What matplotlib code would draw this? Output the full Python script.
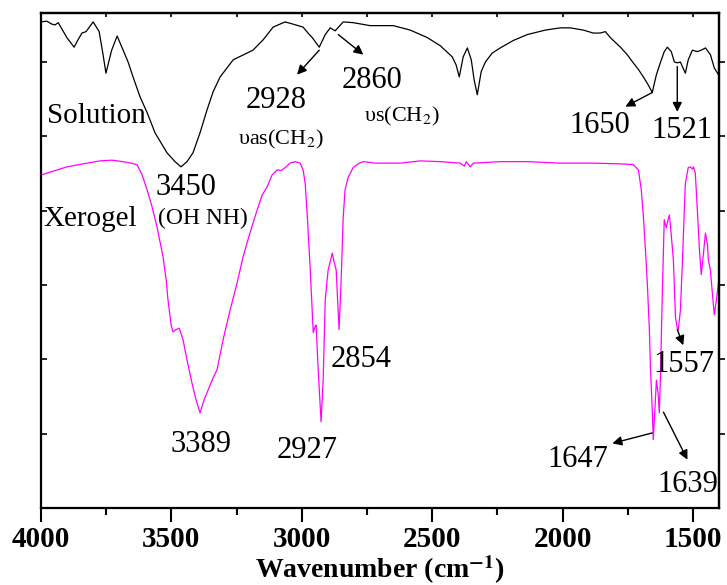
import matplotlib
matplotlib.use("Agg")
import matplotlib.pyplot as plt
from matplotlib.ticker import MultipleLocator

plt.rcParams['font.family'] = ['Liberation Serif', 'DejaVu Serif']
plt.rcParams['mathtext.fontset'] = 'stix'

# ---- Solution spectrum (black) ----
sol_wn = [4000, 3978, 3958, 3946, 3934, 3901, 3873, 3858, 3843, 3827, 3800, 3777, 3762, 3751,
          3729, 3708, 3685, 3666, 3647, 3620, 3593, 3563, 3517, 3486, 3463, 3440, 3417, 3390,
          3363, 3340, 3313, 3263, 3187, 3148, 3110, 3064, 3033, 2995, 2976, 2960, 2933, 2910,
          2891, 2872, 2841, 2803, 2738, 2649, 2584, 2519, 2469, 2423, 2408, 2396, 2381, 2365,
          2350, 2339, 2327, 2312, 2296, 2270, 2239, 2189, 2135, 2066, 2009, 1970, 1920, 1882,
          1855, 1836, 1817, 1778, 1752, 1729, 1709, 1690, 1671, 1656, 1640, 1625, 1610, 1598,
          1583, 1571, 1560, 1548, 1529, 1518, 1502, 1483, 1468, 1452, 1433, 1418, 1402]
sol_t = [6.54, 6.55, 6.51, 6.50, 6.53, 6.33, 6.20, 6.30, 6.39, 6.41, 6.54, 6.41, 6.10, 5.85,
         6.16, 6.35, 6.16, 6.00, 5.80, 5.53, 5.32, 5.05, 4.78, 4.66, 4.59, 4.66, 4.78, 5.05,
         5.36, 5.60, 5.80, 6.03, 6.16, 6.30, 6.47, 6.54, 6.51, 6.47, 6.39, 6.33, 6.20, 6.37,
         6.46, 6.42, 6.54, 6.53, 6.49, 6.49, 6.43, 6.33, 6.22, 6.07, 5.96, 5.80, 6.07, 6.19,
         6.03, 5.76, 5.56, 5.87, 6.00, 6.12, 6.19, 6.29, 6.37, 6.43, 6.46, 6.46, 6.43, 6.39,
         6.39, 6.41, 6.33, 6.20, 6.10, 5.99, 5.90, 5.80, 5.69, 5.59, 5.83, 5.99, 6.14, 6.20,
         6.14, 6.00, 5.99, 6.00, 5.85, 6.03, 6.16, 6.14, 6.16, 6.19, 6.10, 5.92, 5.83]

# ---- Xerogel spectrum (magenta) ----
xer_wn = [4000, 3946, 3900, 3839, 3774, 3728, 3685, 3655, 3632, 3612, 3593, 3574, 3555, 3532,
          3520, 3513, 3501, 3494, 3482, 3470, 3455, 3440, 3421, 3405, 3390, 3375, 3359, 3340,
          3325, 3302, 3275, 3248, 3225, 3198, 3171, 3152, 3133, 3114, 3094, 3079, 3064, 3045,
          3025, 3006, 2995, 2987, 2979, 2968, 2956, 2949, 2945, 2937, 2926, 2918, 2910, 2899,
          2883, 2876, 2868, 2857, 2849, 2841, 2834, 2822, 2803, 2784, 2764, 2718, 2622, 2546,
          2469, 2392, 2377, 2369, 2354, 2342, 2239, 2135, 2009, 1882, 1778, 1729, 1709, 1698,
          1690, 1682, 1675, 1667, 1663, 1656, 1652, 1644, 1640, 1633, 1629, 1625, 1618, 1610,
          1602, 1594, 1590, 1583, 1575, 1567, 1560, 1556, 1548, 1540, 1533, 1529, 1518, 1510,
          1502, 1498, 1491, 1483, 1475, 1468, 1460, 1452, 1444, 1441, 1433, 1425, 1418, 1410, 1402]
xer_t = [4.48, 4.54, 4.59, 4.63, 4.67, 4.68, 4.66, 4.64, 4.62, 4.48, 4.28, 4.05, 3.78, 3.38,
         3.07, 2.80, 2.46, 2.37, 2.40, 2.42, 2.26, 1.99, 1.68, 1.45, 1.28, 1.45, 1.59, 1.75,
         1.86, 2.26, 2.66, 3.03, 3.38, 3.71, 4.01, 4.21, 4.32, 4.48, 4.55, 4.54, 4.58, 4.64,
         4.66, 4.64, 4.55, 4.37, 3.94, 3.24, 2.36, 2.44, 2.46, 1.86, 1.16, 1.72, 2.80, 3.20,
         3.43, 3.31, 3.20, 2.40, 3.07, 3.92, 4.28, 4.45, 4.58, 4.63, 4.66, 4.64, 4.64, 4.67,
         4.66, 4.64, 4.60, 4.66, 4.59, 4.64, 4.66, 4.66, 4.64, 4.64, 4.63, 4.62, 4.55, 4.28,
         3.92, 3.47, 3.03, 2.40, 1.90, 1.32, 0.92, 1.45, 1.72, 1.52, 1.28, 1.72, 2.80, 3.88,
         3.77, 3.90, 3.94, 3.67, 3.34, 2.57, 2.42, 2.40, 2.66, 3.34, 4.01, 4.37, 4.58, 4.59,
         4.56, 4.59, 4.51, 4.01, 3.47, 3.14, 3.41, 3.70, 3.54, 3.34, 3.20, 2.87, 2.60, 2.80, 3.03]

x_ticks = [4000, 3500, 3000, 2500, 2000, 1500]

# (text, x, y, fontsize, ha)
labels = [
    ("Solution", 3977, 5.18, 21, 'left'),
    ("Xerogel", 3992, 3.80, 21, 'left'),
    ("2928", 3098, 5.38, 22, 'center'),
    ("\u03c5as(CH$_2$)", 3079, 4.89, 16, 'center'),
    ("2860", 2730, 5.65, 22, 'center'),
    ("\u03c5s(CH$_2$)", 2615, 5.20, 16, 'center'),
    ("1650", 1859, 5.05, 22, 'center'),
    ("1521", 1544, 4.98, 22, 'center'),
    ("3450", 3444, 4.21, 22, 'center'),
    ("(OH NH)", 3378, 3.82, 17, 'center'),
    ("3389", 3386, 0.75, 22, 'center'),
    ("2927", 2979, 0.67, 22, 'center'),
    ("2854", 2772, 1.90, 22, 'center'),
    ("1557", 1533, 1.83, 22, 'center'),
    ("1647", 1940, 0.55, 22, 'center'),
    ("1639", 1521, 0.22, 22, 'center'),
]
# arrows: (tail_x, tail_y, head_x, head_y)
arrows = [
    (2933, 6.16, 3018, 5.83),
    (2860, 6.37, 2764, 6.10),
    (1656, 5.59, 1759, 5.40),
    (1560, 5.94, 1560, 5.33),
    (1560, 2.40, 1537, 2.19),
    (1656, 1.01, 1809, 0.87),
    (1613, 1.29, 1521, 0.65),
]

fig = plt.figure(figsize=(7.27, 5.85), dpi=100)
ax = fig.add_axes([41/727, 1-508/585, (719-41)/727, (508-13)/585])

ax.plot(sol_wn, sol_t, color='black', lw=0.9)
ax.plot(xer_wn, xer_t, color='#ff00ff', lw=0.9)

ax.set_xlim(4000, 1400)
ax.set_ylim(0, 6.66)

for t, x, y, fs, ha in labels:
    ax.text(x, y, t, fontsize=fs, ha=ha, va='baseline', color='black')

for tx, ty, hx, hy in arrows:
    ax.annotate('', xy=(hx, hy), xytext=(tx, ty),
                arrowprops=dict(arrowstyle='-|>', color='black', lw=1.0,
                                mutation_scale=14, shrinkA=0, shrinkB=0))

ax.set_xticks(x_ticks)
ax.xaxis.set_minor_locator(MultipleLocator(250))
ax.set_yticks([1, 2, 3, 4, 5, 6])
ax.tick_params(axis='x', which='major', direction='out', length=10, width=1.5,
               labelsize=21, pad=3)
ax.tick_params(axis='x', which='minor', direction='out', length=5, width=1.5)
ax.tick_params(axis='y', which='major', direction='in', length=4, width=1.2,
               left=True, right=False, labelleft=False)
for lab in ax.get_xticklabels():
    lab.set_fontweight('bold')
for s in ax.spines.values():
    s.set_linewidth(1.6)

# top ticks (inward, short) and right ticks (outward, short)
top = ax.secondary_xaxis('top')
top.set_xticks([4000, 3750, 3500, 3250, 3000, 2750, 2500, 2250, 2000, 1750, 1500])
top.tick_params(direction='in', length=3, width=1.2, labeltop=False)
top.spines['top'].set_linewidth(1.6)
right = ax.secondary_yaxis('right')
right.set_yticks([1, 2, 3, 4, 5, 6])
right.tick_params(direction='out', length=4, width=1.2, labelright=False)
right.spines['right'].set_linewidth(1.6)

ax.set_xlabel('Wavenumber (cm$^{\\mathbf{-1}}$)', fontsize=20, fontweight='bold')
ax.xaxis.set_label_coords(0.5, -0.092)

fig.savefig('out.png', dpi=100)
